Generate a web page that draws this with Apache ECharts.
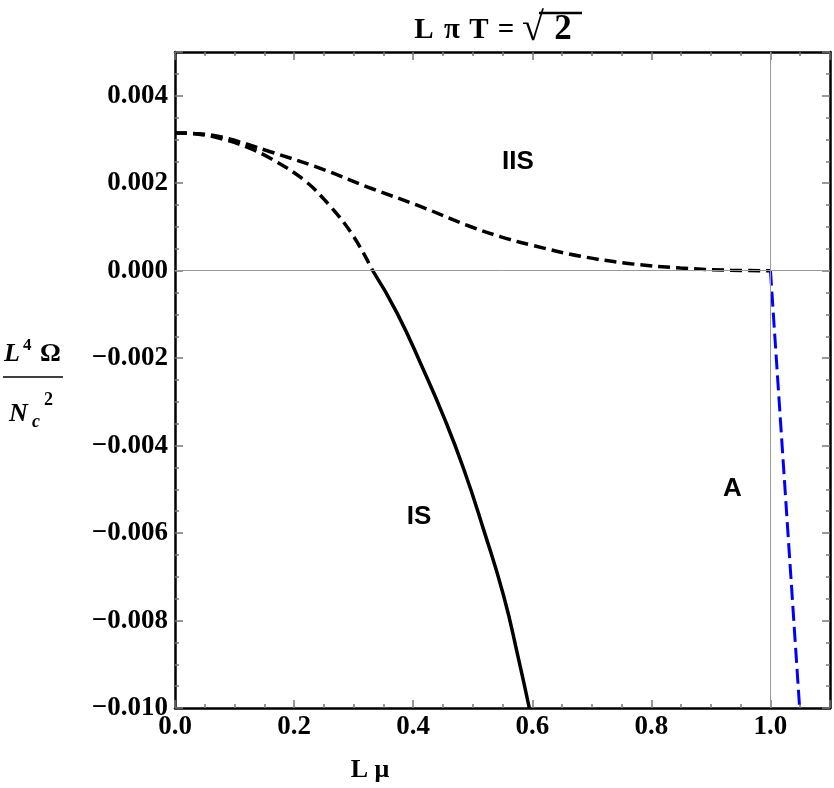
<!DOCTYPE html>
<html><head><meta charset="utf-8">
<script src="https://cdn.jsdelivr.net/npm/echarts@6/dist/echarts.min.js"></script>
<style>html,body{margin:0;padding:0;background:#fff}#c{width:834px;height:788px}</style>
</head><body><div id="c"></div>
<script>
// ---- data ----
const iisX = [0, 0.04, 0.08, 0.16, 0.244, 0.328, 0.412, 0.496, 0.546, 0.597, 0.681, 0.765, 0.849, 0.933, 1.0];
const iisY = [0.00315, 0.00313, 0.00305, 0.00272, 0.00234, 0.00189, 0.00147, 0.00101, 0.00078, 0.00059, 0.00033, 0.00016, 0.00006, 0.00001, 0.0];
const isDashX = [0, 0.04, 0.08, 0.12, 0.16, 0.216, 0.261, 0.3, 0.332];
const isDashY = [0.00315, 0.00312, 0.00301, 0.00283, 0.00257, 0.00208, 0.00147, 0.00078, 0.0];
const isSolidX = [0.332, 0.373, 0.417, 0.451, 0.485, 0.518, 0.552, 0.577, 0.595];
const isSolidY = [0.0, -0.00097, -0.00226, -0.00333, -0.00454, -0.00591, -0.00744, -0.00888, -0.0100];
const aX = [1.0, 1.049];
const aY = [0.0, -0.0100];
const regionLabels = ['IIS', 'IS', 'A'];
const regionLabelX = [0.576, 0.41, 0.936];
const regionLabelY = [0.00249, -0.00564, -0.00498];
const xTickFmt = 1;   // decimals on x labels
const yTickFmt = 3;   // decimals on y labels

// ---- chart ----
const serif = '"Liberation Serif","Times New Roman",serif';
const sans = '"Liberation Sans",Arial,sans-serif';
const pairs = (xs, ys) => xs.map((x, i) => [x, ys[i]]);
const chart = echarts.init(document.getElementById('c'), null, {renderer: 'canvas'});

const tickStyle = {color: '#777', width: 1.5};
function xAx(pos, labels) {
  return {
    type: 'value', min: 0, max: 1.1, interval: 0.2, position: pos,
    axisLine: {show: true, onZero: false, lineStyle: {color: '#000', width: 2.5}},
    axisTick: {show: true, inside: true, length: 8, lineStyle: tickStyle},
    minorTick: {show: true, splitNumber: 4, length: 4, lineStyle: tickStyle},
    splitLine: {show: false},
    axisLabel: {show: labels, showMaxLabel: false, margin: 6, color: '#000',
      fontFamily: serif, fontWeight: 'bold', fontSize: 27,
      formatter: v => v.toFixed(xTickFmt)}
  };
}
function yAx(pos, labels) {
  return {
    type: 'value', min: -0.010, max: 0.005, interval: 0.002, position: pos,
    axisLine: {show: true, onZero: false, lineStyle: {color: '#000', width: 2.5}},
    axisTick: {show: true, inside: true, length: 8, lineStyle: tickStyle},
    minorTick: {show: true, splitNumber: 4, length: 4, lineStyle: tickStyle},
    splitLine: {show: false},
    axisLabel: {show: labels, showMaxLabel: false, margin: 7, color: '#000',
      fontFamily: serif, fontWeight: 'bold', fontSize: 27,
      formatter: v => (v < -1e-9 ? '\u2212' : '') + Math.abs(v).toFixed(yTickFmt)}
  };
}

const option = {
  animation: false,
  backgroundColor: '#fff',
  grid: {left: 175, right: 4, top: 52, bottom: 80, containLabel: false},
  xAxis: [xAx('bottom', true), xAx('top', false)],
  yAxis: [yAx('left', true), yAx('right', false)],
  series: [
    {type: 'line', data: pairs(iisX, iisY), smooth: 0.4, showSymbol: false, z: 3,
     lineStyle: {color: '#000', width: 3.5, type: [12, 6]},
     markLine: {silent: true, symbol: 'none', label: {show: false},
       lineStyle: {color: '#999', width: 1, type: 'solid'},
       data: [{xAxis: 1.0}, {yAxis: 0}]}},
    {type: 'line', data: pairs(isDashX, isDashY), smooth: 0.4, showSymbol: false, z: 3,
     lineStyle: {color: '#000', width: 3.5, type: [12, 6]}},
    {type: 'line', data: pairs(isSolidX, isSolidY), smooth: 0.5, showSymbol: false, z: 3,
     lineStyle: {color: '#000', width: 3.5, type: 'solid'}},
    {type: 'line', data: pairs(aX, aY), showSymbol: false, z: 3,
     lineStyle: {color: '#0000ff', width: 3, type: [15, 6]}}
  ]
};
chart.setOption(option);

// annotations
const g = [];
regionLabels.forEach((t, i) => {
  const p = chart.convertToPixel({xAxisIndex: 0, yAxisIndex: 0}, [regionLabelX[i], regionLabelY[i]]);
  g.push({type: 'text', x: p[0], y: p[1], style: {text: t, fill: '#000',
    font: 'bold 26px ' + sans, textAlign: 'center', textVerticalAlign: 'middle'}});
});
// title: L π T = √2 (pieces spaced like the reference)
const tfont = 'bold 29px ' + serif;
const tParts = ['L', '\u03c0', 'T', '=', '\u221a', '2'];
const tPartX = [424, 452, 479, 506, 533, 563];
const tPartFont = [tfont, tfont, tfont, tfont, 'bold 40px ' + serif, 'bold 35px ' + serif];
const tPartY = [31, 31, 31, 31, 30, 30];
tParts.forEach((t, i) => g.push({type: 'text', x: tPartX[i], y: tPartY[i],
  style: {text: t, fill: '#000', font: tPartFont[i], textAlign: 'center', textVerticalAlign: 'middle'}}));
g.push({type: 'line', shape: {x1: 539, y1: 13, x2: 582, y2: 13},
  style: {stroke: '#000', lineWidth: 2.6}});
// x axis name
g.push({type: 'text', x: 370, y: 770, style: {text: 'L \u03bc', fill: '#000',
  font: 'bold 26px ' + serif, textAlign: 'center', textVerticalAlign: 'middle'}});
// y axis name (fraction)
const fi = 'italic bold 26px ' + serif;
g.push({type: 'text', x: 4, y: 354, style: {text: 'L', fill: '#000', font: fi, textAlign: 'left', textVerticalAlign: 'middle'}});
g.push({type: 'text', x: 23, y: 346, style: {text: '4', fill: '#000', font: 'bold 17px ' + serif, textAlign: 'left', textVerticalAlign: 'middle'}});
g.push({type: 'text', x: 40, y: 354, style: {text: '\u03a9', fill: '#000', font: 'bold 26px ' + serif, textAlign: 'left', textVerticalAlign: 'middle'}});
g.push({type: 'line', shape: {x1: 3, y1: 377, x2: 63, y2: 377}, style: {stroke: '#000', lineWidth: 1.6}});
g.push({type: 'text', x: 9, y: 414, style: {text: 'N', fill: '#000', font: fi, textAlign: 'left', textVerticalAlign: 'middle'}});
g.push({type: 'text', x: 32, y: 422, style: {text: 'c', fill: '#000', font: 'italic bold 18px ' + serif, textAlign: 'left', textVerticalAlign: 'middle'}});
g.push({type: 'text', x: 44, y: 400, style: {text: '2', fill: '#000', font: 'bold 18px ' + serif, textAlign: 'left', textVerticalAlign: 'middle'}});
chart.setOption({graphic: {elements: g}});
</script></body></html>
